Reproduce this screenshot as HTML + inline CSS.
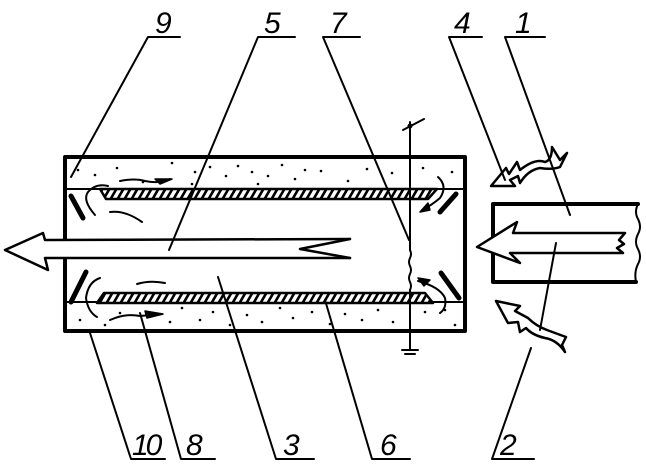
<!DOCTYPE html>
<html><head><meta charset="utf-8"><style>
html,body{margin:0;padding:0;background:#fff}
svg{display:block}
text{font-family:"Liberation Sans",sans-serif;font-style:italic;font-size:30px;fill:#000}
</style></head><body>
<svg width="646" height="465" viewBox="0 0 646 465" xmlns="http://www.w3.org/2000/svg">
<defs>
<pattern id="h" width="7" height="10" patternUnits="userSpaceOnUse" patternTransform="skewX(-30)">
<rect width="7" height="10" fill="#fff"/><rect width="3" height="10" fill="#000"/>
</pattern>
</defs>
<g stroke="#000" fill="none" stroke-linecap="round" stroke-linejoin="round">
<rect x="65" y="157" width="400" height="174" stroke-width="4"/>
<line x1="65" y1="189" x2="465" y2="189" stroke-width="2"/>
<line x1="65" y1="302" x2="465" y2="302" stroke-width="2"/>
<path d="M100 189 L437 189 L428 199 L106 199 Z" fill="url(#h)" stroke-width="2.5"/>
<path d="M97 303 L433 303 L425 293 L104 293 Z" fill="url(#h)" stroke-width="2.5"/>
<line x1="71" y1="196" x2="83" y2="218" stroke-width="5"/>
<line x1="71" y1="302" x2="86" y2="272" stroke-width="5"/>
<line x1="456" y1="194" x2="440" y2="212" stroke-width="5"/>
<line x1="441" y1="273" x2="459" y2="298" stroke-width="5"/>
<!-- big arrow -->
<path d="M350 239 L45 240 L43 233 L5 250 L48 270 L45 258 L350 258" stroke-width="2.5" fill="#fff"/>
<path d="M350 239 L300 249 L350 258" stroke-width="2.5"/>
<!-- wire 7 -->
<line x1="410" y1="122" x2="410" y2="250" stroke-width="2"/>
<path d="M410 250 q2 4 0 8 q-2 4 0 8 q2 4 0 8 q-2 4 0 8 q2 4 0 8" stroke-width="2"/>
<line x1="410" y1="290" x2="410" y2="350" stroke-width="2"/>
<line x1="403" y1="130" x2="424" y2="119" stroke-width="2"/>
<circle cx="410" cy="126" r="2" fill="#000"/>
<line x1="402" y1="350" x2="418" y2="350" stroke-width="2"/>
<line x1="405" y1="354" x2="415" y2="354" stroke-width="2"/>
<!-- right box -->
<path d="M638 204 L493 204 L493 282 L636 282" stroke-width="4"/>
<path d="M638 204 q-4 8 0 15 q4 8 0 15 q-4 8 0 15 q4 8 0 15 q-4 8 -2 18" stroke-width="2"/>
<path d="M625 233 L513 233 L517 222 L477 247 L520 263 L510 253 L623 253 L617 248 L624 244 L619 240 Z" stroke-width="2.5" fill="#fff"/>
<path d="M491 186 L506 168 L509 174 L517 162 L520 170 Q535 158 545 162 Q552 160 552 147 L560 160 L567 153 L560 167 Q552 170 540 168 Q528 170 520 183 L518 176 L510 180 L515 186 Z" stroke-width="2.5" fill="#fff"/>
<path d="M496 301 L520 306 L515 311 L528 318 Q536 326 547 330 Q555 333 566 337 L562 345 L565 352 Q557 340 545 338 Q532 335 526 328 L520 332 L518 322 L508 323 Z" stroke-width="2.5" fill="#fff"/>
<path d="M95 215 Q82 200 88 192 Q96 183 108 186" stroke-width="2"/>
<path d="M120 181 Q135 178 145 181 Q160 184 170 179" stroke-width="2"/>
<path d="M155 179 L172 179 L160 184 Z" fill="#000" stroke-width="1.5"/>
<path d="M110 212 Q125 210 142 222" stroke-width="2"/>
<path d="M137 284 Q150 280 165 283" stroke-width="2"/>
<path d="M100 278 Q88 282 86 298 Q88 312 97 317" stroke-width="2"/>
<path d="M110 320 Q125 313 140 316 L162 314" stroke-width="2"/>
<path d="M145 311 L163 314 L147 318 Z" fill="#000" stroke-width="1.5"/>
<path d="M438 177 Q448 186 440 198 Q432 205 422 210" stroke-width="2"/>
<path d="M420 212 L428 203 L430 210 Z" fill="#000" stroke-width="1.5"/>
<path d="M418 281 Q440 287 445 298 Q447 308 440 313" stroke-width="2"/>
<path d="M418 278 L430 280 L424 286 Z" fill="#000" stroke-width="1.5"/>
<polyline points="180,37 148,37 71,177" stroke-width="2"/>
<polyline points="295,37 258,37 169,250" stroke-width="2"/>
<polyline points="360,37 323,37 409,240" stroke-width="2"/>
<polyline points="482,37 449,37 505,180" stroke-width="2"/>
<polyline points="545,37 505,37 570,215" stroke-width="2"/>
<polyline points="165,459 131,459 90,333" stroke-width="2"/>
<polyline points="215,459 181,459 140,313" stroke-width="2"/>
<polyline points="314,459 276,459 218,277" stroke-width="2"/>
<polyline points="410,459 372,459 325,300" stroke-width="2"/>
<polyline points="534,459 492,459 531,348" stroke-width="2"/>
<line x1="540" y1="330" x2="556" y2="243" stroke-width="2"/>
</g>
<g fill="#000">
<circle cx="78" cy="170" r="1.3"/><circle cx="95" cy="175" r="1.3"/><circle cx="117" cy="168" r="1.3"/><circle cx="143" cy="182" r="1.3"/><circle cx="172" cy="163" r="1.3"/><circle cx="195" cy="172" r="1.3"/><circle cx="210" cy="167" r="1.3"/><circle cx="226" cy="176" r="1.3"/><circle cx="238" cy="166" r="1.3"/><circle cx="252" cy="172" r="1.3"/><circle cx="268" cy="176" r="1.3"/><circle cx="282" cy="165" r="1.3"/><circle cx="295" cy="179" r="1.3"/><circle cx="305" cy="170" r="1.3"/><circle cx="321" cy="171" r="1.3"/><circle cx="348" cy="181" r="1.3"/><circle cx="367" cy="169" r="1.3"/><circle cx="392" cy="173" r="1.3"/><circle cx="423" cy="168" r="1.3"/><circle cx="452" cy="172" r="1.3"/><circle cx="192" cy="184" r="1.3"/><circle cx="258" cy="184" r="1.3"/>
<circle cx="80" cy="320" r="1.3"/><circle cx="105" cy="325" r="1.3"/><circle cx="120" cy="313" r="1.3"/><circle cx="170" cy="322" r="1.3"/><circle cx="182" cy="308" r="1.3"/><circle cx="200" cy="320" r="1.3"/><circle cx="213" cy="312" r="1.3"/><circle cx="230" cy="325" r="1.3"/><circle cx="247" cy="315" r="1.3"/><circle cx="262" cy="322" r="1.3"/><circle cx="280" cy="308" r="1.3"/><circle cx="293" cy="318" r="1.3"/><circle cx="312" cy="312" r="1.3"/><circle cx="330" cy="324" r="1.3"/><circle cx="345" cy="314" r="1.3"/><circle cx="362" cy="320" r="1.3"/><circle cx="378" cy="310" r="1.3"/><circle cx="393" cy="322" r="1.3"/><circle cx="425" cy="312" r="1.3"/><circle cx="455" cy="325" r="1.3"/><circle cx="445" cy="310" r="1.3"/>
</g>
<text x="155" y="33">9</text>
<text x="264" y="33">5</text>
<text x="330" y="33">7</text>
<text x="454" y="33">4</text>
<text x="515" y="33">1</text>
<text x="132" y="455" style="letter-spacing:-3px">10</text>
<text x="186" y="455">8</text>
<text x="283" y="455">3</text>
<text x="380" y="455">6</text>
<text x="500" y="455">2</text>
</svg>
</body></html>
